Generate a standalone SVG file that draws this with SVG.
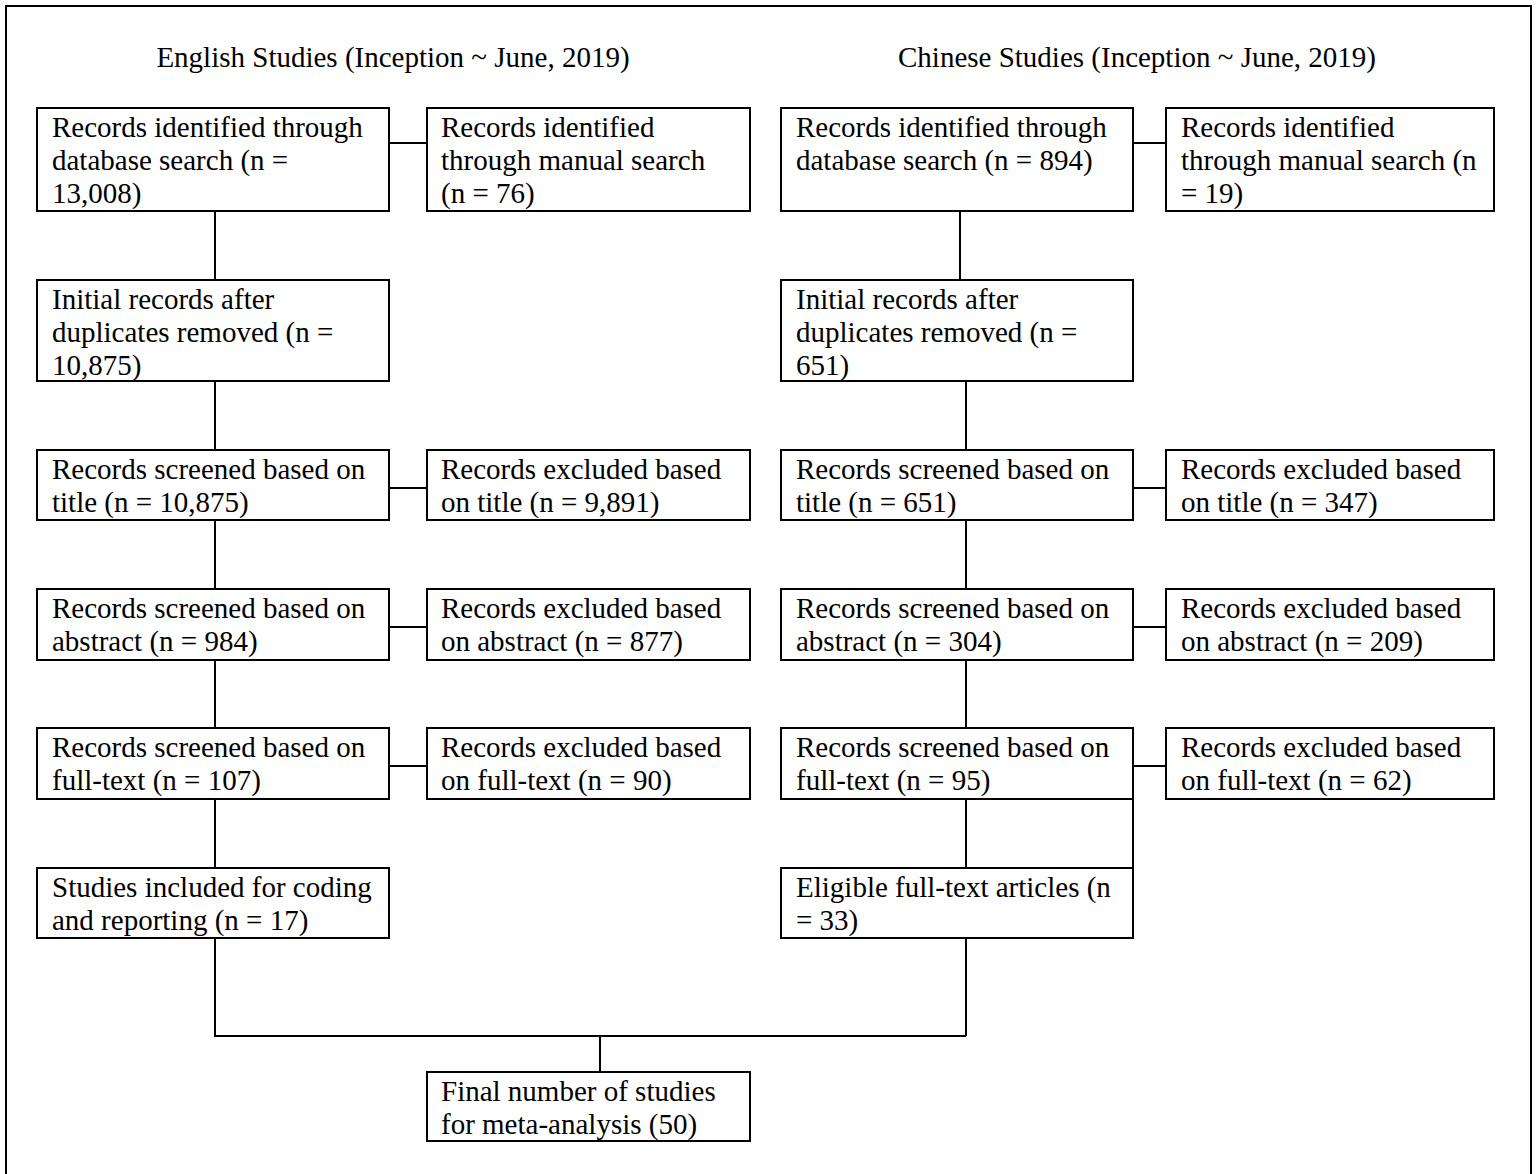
<svg xmlns="http://www.w3.org/2000/svg" width="1536" height="1174" viewBox="0 0 1536 1174">
<style>
.box{fill:#fff;stroke:#000;stroke-width:2}
.ln{fill:none;stroke:#000;stroke-width:2}
text{font-family:"Liberation Serif","Times New Roman",serif;font-size:29px;fill:#000}
</style>
<rect x="0" y="0" width="1536" height="1174" fill="#fff"/>
<rect x="6" y="6" width="1525" height="1180" class="ln"/>
<text x="393" y="67" text-anchor="middle">English Studies (Inception ~ June, 2019)</text>
<text x="1137" y="67" text-anchor="middle">Chinese Studies (Inception ~ June, 2019)</text>
<g id="connectors">
<path class="ln" d="M389 143H427M215 211V280M215 381V450M389 488H427M215 520V589M389 627H427M215 660V728M389 766H427M215 799V868M215 938V1036H966M600 1036V1072"/>
<path class="ln" d="M1133 143H1166M960 211V280M966 381V450M1133 488H1166M966 520V589M1133 627H1166M966 660V728M1133 766H1166M966 799V868M1133 799V868M966 938V1036"/>
</g>
<g id="en_db"><rect class="box" x="37" y="108" width="352" height="103"/><text x="52" y="137">Records identified through</text><text x="52" y="170">database search (n =</text><text x="52" y="203">13,008)</text></g>
<g id="en_manual"><rect class="box" x="427" y="108" width="323" height="103"/><text x="441" y="137">Records identified</text><text x="441" y="170">through manual search</text><text x="441" y="203">(n = 76)</text></g>
<g id="en_dup"><rect class="box" x="37" y="280" width="352" height="101"/><text x="52" y="309">Initial records after</text><text x="52" y="342">duplicates removed (n =</text><text x="52" y="375">10,875)</text></g>
<g id="en_title"><rect class="box" x="37" y="450" width="352" height="70"/><text x="52" y="479">Records screened based on</text><text x="52" y="512">title (n = 10,875)</text></g>
<g id="en_title_ex"><rect class="box" x="427" y="450" width="323" height="70"/><text x="441" y="479">Records excluded based</text><text x="441" y="512">on title (n = 9,891)</text></g>
<g id="en_abs"><rect class="box" x="37" y="589" width="352" height="71"/><text x="52" y="618">Records screened based on</text><text x="52" y="651">abstract (n = 984)</text></g>
<g id="en_abs_ex"><rect class="box" x="427" y="589" width="323" height="71"/><text x="441" y="618">Records excluded based</text><text x="441" y="651">on abstract (n = 877)</text></g>
<g id="en_ft"><rect class="box" x="37" y="728" width="352" height="71"/><text x="52" y="757">Records screened based on</text><text x="52" y="790">full-text (n = 107)</text></g>
<g id="en_ft_ex"><rect class="box" x="427" y="728" width="323" height="71"/><text x="441" y="757">Records excluded based</text><text x="441" y="790">on full-text (n = 90)</text></g>
<g id="en_inc"><rect class="box" x="37" y="868" width="352" height="70"/><text x="52" y="897">Studies included for coding</text><text x="52" y="930">and reporting (n = 17)</text></g>
<g id="cn_db"><rect class="box" x="781" y="108" width="352" height="103"/><text x="796" y="137">Records identified through</text><text x="796" y="170">database search (n = 894)</text></g>
<g id="cn_manual"><rect class="box" x="1166" y="108" width="328" height="103"/><text x="1181" y="137">Records identified</text><text x="1181" y="170">through manual search (n</text><text x="1181" y="203">= 19)</text></g>
<g id="cn_dup"><rect class="box" x="781" y="280" width="352" height="101"/><text x="796" y="309">Initial records after</text><text x="796" y="342">duplicates removed (n =</text><text x="796" y="375">651)</text></g>
<g id="cn_title"><rect class="box" x="781" y="450" width="352" height="70"/><text x="796" y="479">Records screened based on</text><text x="796" y="512">title (n = 651)</text></g>
<g id="cn_title_ex"><rect class="box" x="1166" y="450" width="328" height="70"/><text x="1181" y="479">Records excluded based</text><text x="1181" y="512">on title (n = 347)</text></g>
<g id="cn_abs"><rect class="box" x="781" y="589" width="352" height="71"/><text x="796" y="618">Records screened based on</text><text x="796" y="651">abstract (n = 304)</text></g>
<g id="cn_abs_ex"><rect class="box" x="1166" y="589" width="328" height="71"/><text x="1181" y="618">Records excluded based</text><text x="1181" y="651">on abstract (n = 209)</text></g>
<g id="cn_ft"><rect class="box" x="781" y="728" width="352" height="71"/><text x="796" y="757">Records screened based on</text><text x="796" y="790">full-text (n = 95)</text></g>
<g id="cn_ft_ex"><rect class="box" x="1166" y="728" width="328" height="71"/><text x="1181" y="757">Records excluded based</text><text x="1181" y="790">on full-text (n = 62)</text></g>
<g id="cn_elig"><rect class="box" x="781" y="868" width="352" height="70"/><text x="796" y="897">Eligible full-text articles (n</text><text x="796" y="930">= 33)</text></g>
<g id="final"><rect class="box" x="427" y="1072" width="323" height="69"/><text x="441" y="1101">Final number of studies</text><text x="441" y="1134">for meta-analysis (50)</text></g>
</svg>
